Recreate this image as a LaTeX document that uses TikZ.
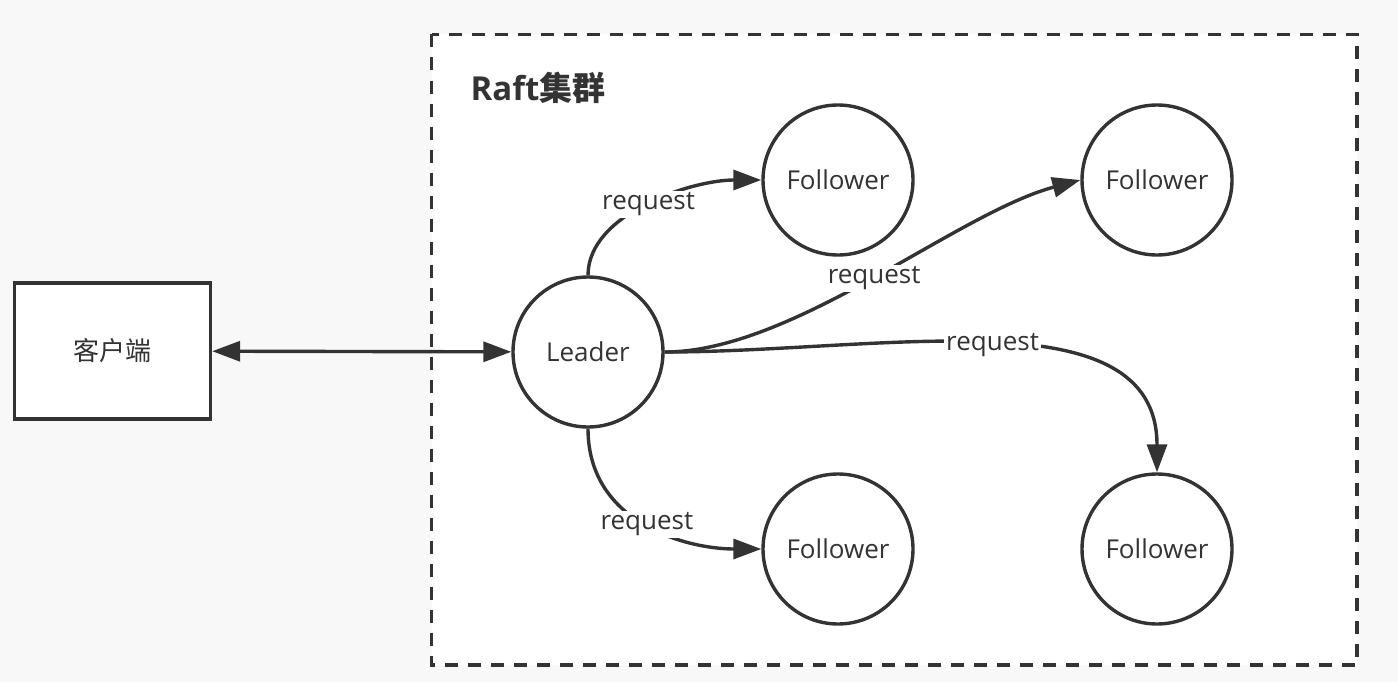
\documentclass[tikz,border=0pt]{standalone}
\usepackage{fontspec}
\setmainfont{Open Sans}
\newfontfamily\cjk{Noto Sans CJK SC}
\usetikzlibrary{arrows.meta}
\definecolor{ink}{HTML}{333333}
\definecolor{paper}{HTML}{F8F8F8}

\begin{document}
\begin{tikzpicture}[x=0.5pt, y=0.5pt, color=ink, line width=1.7pt,
    >={Triangle[length=14pt,width=10pt]},
    peer/.style={circle, draw, fill=white, minimum size=75pt, inner sep=0pt,
      font=\fontsize{13}{15}\selectfont},
    req/.style={fill=white, inner sep=1pt, font=\fontsize{13}{15}\selectfont}]

    % Canvas
    \fill[paper] (0,0) rectangle (1398,682);
    \useasboundingbox (0,0) rectangle (1398,682);

    % Cluster frame
    \draw[dash pattern=on 6.5pt off 5pt, fill=white] (431.5,647.5) rectangle (1357,17);
    \node[font=\fontsize{16.5}{20}\selectfont\bfseries] (title) at (538,594) {Raft{\cjk 集群}};

    % Client
    \node[draw, fill=white, minimum width=98pt, minimum height=68pt,
      font=\fontsize{13}{15}\selectfont] (client) at (112.5,331) {{\cjk 客户端}};

    % Leader and Followers
    \node[peer] (leader) at (588,330) {Leader};
    \foreach \n/\x/\y in {f1/838/502, f2/1157/502, f3/838/133, f4/1157/133}
    \node[peer] (\n) at (\x,\y) {Follower};

    % Connections
    \draw[<->] (client) -- (leader);
    \draw[->] (leader.north) to[out=90, in=180, out looseness=0.8, in looseness=0.9] node[req] {request} (f1.west);
    \draw[->] (leader.east) to[out=0, in=195, looseness=0.73] node[req] {request} (f2.west);
    \draw[->] (leader.east) to[out=0, in=90, out looseness=1.1, in looseness=0.9] node[req] {request} (f4.north);
    \draw[->] (leader.south) to[out=-90, in=180, out looseness=1.15, in looseness=0.9] node[req] {request} (f3.west);

\end{tikzpicture}
\end{document}
